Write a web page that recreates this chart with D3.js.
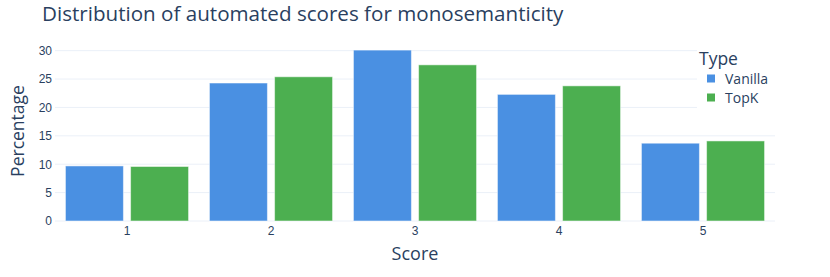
<!DOCTYPE html>
<html>
<head>
<meta charset="utf-8">
<script src="https://cdn.jsdelivr.net/npm/d3@7"></script>
<style>
  html, body { margin: 0; padding: 0; background: #fff; }
  svg { display: block; font-family: "Open Sans", verdana, arial, sans-serif; }
</style>
</head>
<body>
<svg></svg>
<script>
// data
const scores = ["1", "2", "3", "4", "5"];
const types = ["Vanilla", "TopK"];
const vanilla = [9.7, 24.3, 30.1, 22.3, 13.7];
const topk = [9.6, 25.4, 27.5, 23.8, 14.1];
const yTicks = [0, 5, 10, 15, 20, 25, 30];

const width = 830;
const height = 277;
const marginTop = 41;
const marginRight = 55;
const marginBottom = 56;
const marginLeft = 55;
const textColor = "#2a3f5f";

const colors = d3.scaleOrdinal().domain(types).range(["#4a90e2", "#4caf50"]);

// one row per score, one value per type
const rows = scores.map((s, i) => ({score: s, Vanilla: vanilla[i], TopK: topk[i]}));

const svg = d3.select("svg")
    .attr("width", width)
    .attr("height", height)
    .attr("viewBox", [0, 0, width, height]);

const x = d3.scaleBand()
    .domain(scores)
    .range([marginLeft, width - marginRight])
    .paddingInner(0.145)
    .paddingOuter(0.0725);

const xInner = d3.scaleBand()
    .domain(types)
    .range([0, x.bandwidth()])
    .paddingInner(0.11);

const y = d3.scaleLinear()
    .domain([0, 31.7])
    .range([height - marginBottom, marginTop]);

// grid lines
svg.append("g")
  .selectAll("line")
  .data(yTicks)
  .join("line")
    .attr("x1", marginLeft)
    .attr("x2", width - marginRight)
    .attr("y1", d => y(d))
    .attr("y2", d => y(d))
    .attr("stroke", "#ebf0f8")
    .attr("stroke-width", 1);

// y axis
svg.append("g")
    .attr("transform", `translate(${marginLeft},0)`)
    .call(d3.axisLeft(y).tickValues(yTicks).tickSize(0).tickPadding(3))
    .call(g => g.select(".domain").remove())
    .call(g => g.selectAll("text")
        .attr("fill", textColor)
        .attr("font-size", 12)
        .attr("font-family", null));

// bars
svg.append("g")
  .selectAll("g")
  .data(rows)
  .join("g")
    .attr("transform", d => `translate(${x(d.score)},0)`)
  .selectAll("rect")
  .data(d => types.map(t => ({type: t, value: d[t]})))
  .join("rect")
    .attr("x", d => xInner(d.type))
    .attr("y", d => y(d.value))
    .attr("width", xInner.bandwidth())
    .attr("height", d => y(0) - y(d.value))
    .attr("fill", d => colors(d.type))
    .attr("stroke", "rgba(255,255,255,0.5)")
    .attr("stroke-width", 1);

// x axis
svg.append("g")
    .attr("transform", `translate(0,${height - marginBottom})`)
    .call(d3.axisBottom(x).tickSize(0).tickPadding(5))
    .call(g => g.select(".domain").remove())
    .call(g => g.selectAll("text")
        .attr("fill", textColor)
        .attr("font-size", 12)
        .attr("font-family", null));

// axis titles
svg.append("text")
    .attr("x", (marginLeft + width - marginRight) / 2)
    .attr("y", 260)
    .attr("text-anchor", "middle")
    .attr("fill", textColor)
    .attr("font-size", 18)
    .text("Score");

svg.append("text")
    .attr("transform", `translate(24,${(marginTop + height - marginBottom) / 2}) rotate(-90)`)
    .attr("text-anchor", "middle")
    .attr("fill", textColor)
    .attr("font-size", 17.5)
    .text("Percentage");

// title
svg.append("text")
    .attr("x", 42)
    .attr("y", 21)
    .attr("fill", textColor)
    .attr("font-size", 20.6)
    .text("Distribution of automated scores for monosemanticity");

// legend
const legend = svg.append("g")
    .attr("transform", "translate(697,44)");

legend.append("rect")
    .attr("width", 80)
    .attr("height", 66)
    .attr("fill", "#fff");

legend.append("text")
    .attr("x", 2)
    .attr("y", 21)
    .attr("fill", textColor)
    .attr("font-size", 17.5)
    .text("Type");

const item = legend.selectAll("g.item")
  .data(types)
  .join("g")
    .attr("class", "item")
    .attr("transform", (d, i) => `translate(0,${40 + i * 19})`);

item.append("rect")
    .attr("x", 10)
    .attr("y", -9.5)
    .attr("width", 8)
    .attr("height", 8)
    .attr("fill", d => colors(d));

item.append("text")
    .attr("x", 28)
    .attr("y", 0)
    .attr("fill", textColor)
    .attr("font-size", 14)
    .text(d => d);
</script>
</body>
</html>
